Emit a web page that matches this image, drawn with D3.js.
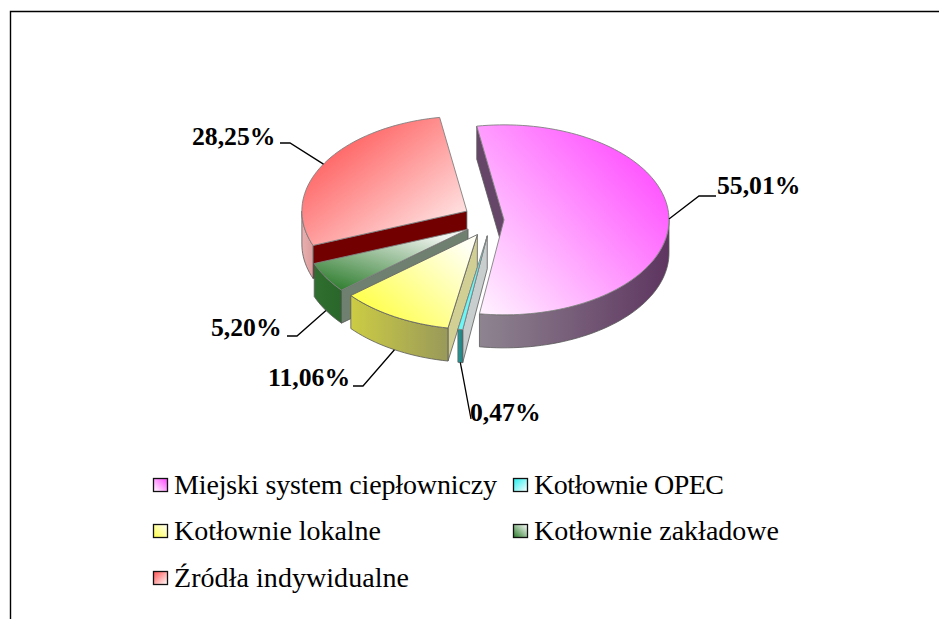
<!DOCTYPE html>
<html><head><meta charset="utf-8">
<script src="https://cdn.jsdelivr.net/npm/d3@7"></script>
<style>html,body{margin:0;padding:0;background:#fff}svg{display:block}text{font-family:"Liberation Serif",serif;fill:#000}</style>
</head><body><svg id="c" width="939" height="619"></svg>
<script>
const categories = ["Miejski system ciepłowniczy","Kotłownie OPEC","Kotłownie lokalne","Kotłownie zakładowe","Źródła indywidualne"];
const values = [55.01,0.47,11.06,5.20,28.25];
const valueLabels = ["55,01%","0,47%","11,06%","5,20%","28,25%"];
const topStrong = ["#ff44ff","#22eeee","#ffff44","#2a7a2a","#ff5050"];
const topPale = ["#fff0ff","#aaffff","#fffff4","#f0f4f0","#fff0f0"];
const wallNear = ["#8e8490","#2a9a9a","#cccc44","#2f6f2f","#e8b0b0"];
const wallFar = ["#5e3560","#1f7f7f","#99995a","#2a662a","#dc9c9c"];
const sideWall = ["#664668","#c8cdcd","#d2cf94","#6f7f70","#720000"];

const W=939,H=619,rx=165,ry=95,depth=33,cx=483.6,cy=220,explodeX=20.4,explodeY=18;
// small horizontal shifts of the front slices: the original's perspective moves them right
const perspectiveShift=[0,7,4,2,1];
const perspectiveLift=[0,-2,-1,0,0];
const svg=d3.select("#c");
const defs=svg.append("defs");
const rad=d=>d*Math.PI/180;
const pie=d3.pie().sort(null).startAngle(rad(-9.5)).endAngle(rad(350.5));
const arcs=pie(values).map((a,i)=>({...a,i,mid:(a.startAngle+a.endAngle)/2}));
const gradDirs=[[1,.15,.05,1],[0,0,1,1],[.05,.8,.9,.1],[.1,1,.8,.1],[.1,.1,.95,.95]];
const keyDirs=[[1,0,0,1],[0,0,1,1],[0,1,1,0],[0,1,1,0],[0,0,1,1]];
categories.forEach((c,i)=>{
  const mk=(id,dir,stops)=>{const g=defs.append("linearGradient").attr("id",id)
    .attr("x1",dir[0]).attr("y1",dir[1]).attr("x2",dir[2]).attr("y2",dir[3]);
    stops.forEach((s,k)=>g.append("stop").attr("offset",k/(stops.length-1)).attr("stop-color",s));};
  mk("top"+i,gradDirs[i],[topStrong[i],topPale[i]]);
  mk("key"+i,keyDirs[i],[topStrong[i],"#ffffff"]);
  mk("wall"+i,[0,0,1,0],[wallNear[i],wallFar[i]]);
});
// frame
svg.append("path").attr("d",d3.line()([[10.5,H],[10.5,11.5],[W,11.5]])).attr("fill","none").attr("stroke","#000").attr("stroke-width",1.4);

const center=a=>[cx+explodeX*Math.sin(a.mid)+perspectiveShift[a.i],cy-explodeY*Math.cos(a.mid)+perspectiveLift[a.i]];
const pt=(c,t,z=0)=>[c[0]+rx*Math.sin(t),c[1]-ry*Math.cos(t)+z];
const line=d3.line();
const sweep=(t0,t1)=>{const n=Math.max(2,Math.ceil(Math.abs(t1-t0)/rad(2)));return d3.range(n+1).map(k=>t0+(t1-t0)*k/n);};
const order=[4,3,2,1,0];
const edge="#5a5a5a";
order.forEach(i=>{
  const a=arcs[i],c=center(a),g=svg.append("g");
  const s=a.startAngle,e=a.endAngle;
  // cut face at the clockwise start of the slice
  g.append("path").attr("d",line([c,pt(c,s),pt(c,s,depth),[c[0],c[1]+depth]])+"Z")
   .attr("fill",sideWall[i]).attr("stroke",edge).attr("stroke-width",.8);
  // outer rim, only the half that faces the viewer
  const t0=Math.max(s,rad(90)),t1=Math.min(e,rad(270));
  if(t1>t0){
    const ts=sweep(t0,t1);
    const poly=ts.map(t=>pt(c,t)).concat(ts.slice().reverse().map(t=>pt(c,t,depth)));
    g.append("path").attr("d",line(poly)+"Z").attr("fill",`url(#wall${i})`).attr("stroke",edge).attr("stroke-width",.8);
  }
  // top face
  const top=[c].concat(sweep(s,e).map(t=>pt(c,t)));
  g.append("path").attr("d",line(top)+"Z").attr("fill",`url(#top${i})`).attr("stroke",i==2?"#666":"#808080").attr("stroke-width",.9);
});

// data labels + leaders
const labelPos=[[717,194],[470,421],[268,386],[211,336],[192,145]];
const elbows=[[[699,196],[716,196]],[[471,419]],[[363,386],[353,386]],[[297,336],[287,336]],[[290,143],[280,143]]];
arcs.forEach(a=>{
  const i=a.i,c=center(a);
  const z=(i==0||i==4)?0:depth;
  const start=pt(c,a.mid,z);
  svg.append("path").attr("d",line([start,...elbows[i]])).attr("fill","none").attr("stroke","#000").attr("stroke-width",1.3);
  svg.append("text").attr("x",labelPos[i][0]).attr("y",labelPos[i][1])
    .attr("font-size",25.7).attr("font-weight","bold").text(valueLabels[i]);
});

// legend
const legendPos=[[153,494],[513,494],[153,540],[513,540],[153,587]];
const legendWidths=[323,190,207,245,235];
categories.forEach((c,i)=>{
  const [x,y]=legendPos[i];
  svg.append("rect").attr("x",x+.5).attr("y",y-15.5).attr("width",14).attr("height",13)
    .attr("fill",`url(#key${i})`).attr("stroke","#111").attr("stroke-width",1.3);
  svg.append("text").attr("x",x+21).attr("y",y).attr("font-size",28)
    .attr("textLength",legendWidths[i]).attr("lengthAdjust","spacing").text(c);
});
</script></body></html>
